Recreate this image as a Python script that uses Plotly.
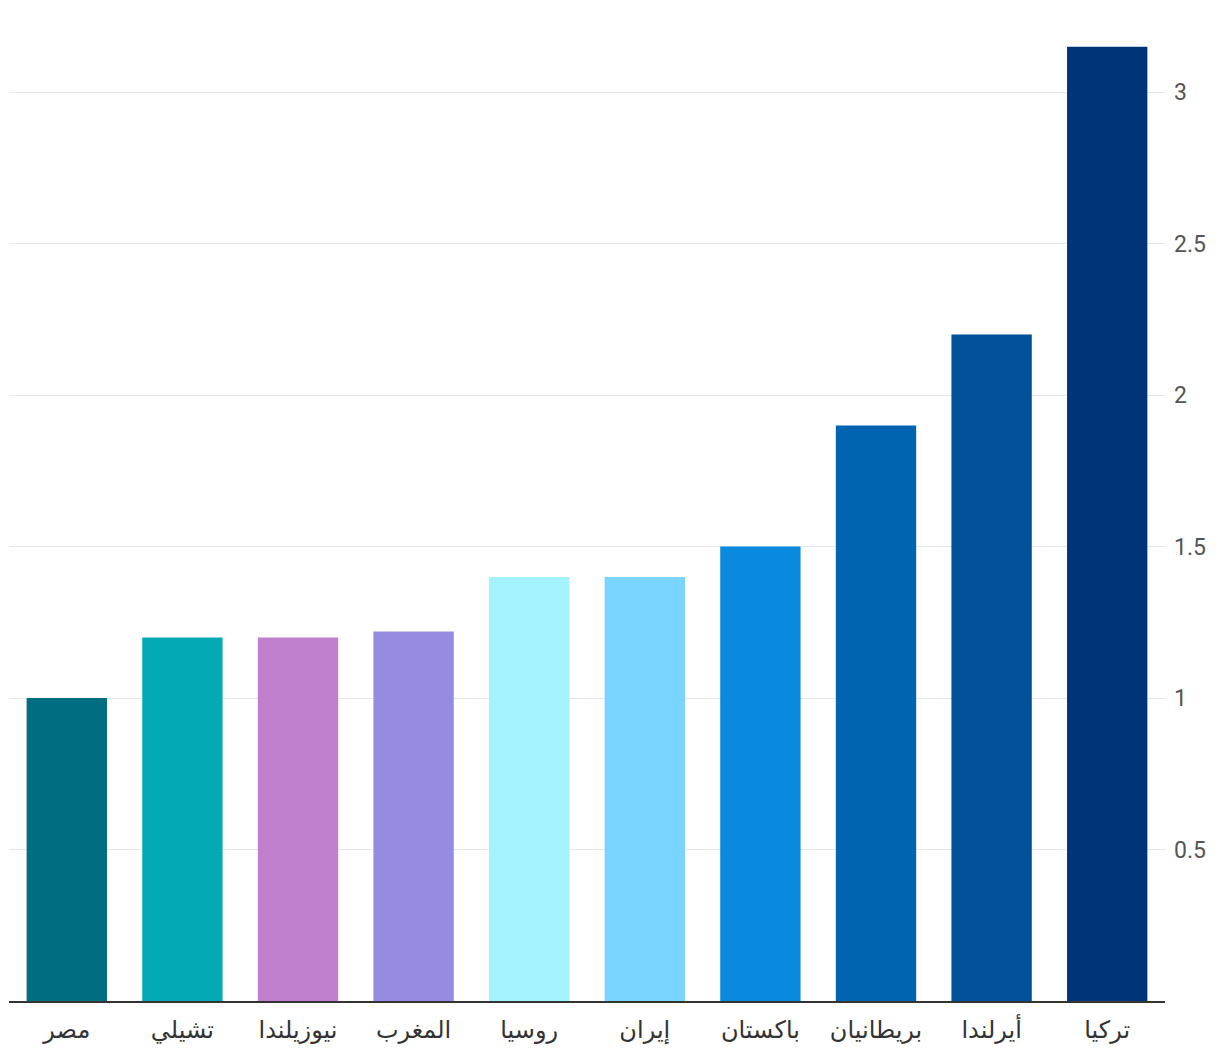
import plotly.graph_objects as go

countries = ["مصر", "تشيلي", "نيوزيلندا", "المغرب", "روسيا", "إيران", "باكستان", "بريطانيان", "أيرلندا", "تركيا"]
values = [1.0, 1.2, 1.2, 1.22, 1.4, 1.4, 1.5, 1.9, 2.2, 3.15]
colors = ["#006d80", "#03a9b5", "#bf7fcc", "#958be0", "#a3f3ff",
          "#79d4ff", "#0a8ade", "#0064b0", "#00509a", "#003478"]
tick_vals = [0.5, 1, 1.5, 2, 2.5, 3]
tick_text = ["0.5", "1", "1.5", "2", "2.5", "3"]

fig = go.Figure(go.Bar(
    x=countries, y=values, marker=dict(color=colors, line=dict(width=0)),
    hoverinfo="x+y",
))

fig.update_layout(
    width=1212, height=1048,
    margin=dict(l=1, r=55, t=0, b=55),
    paper_bgcolor="white", plot_bgcolor="white",
    bargap=0.305,
    showlegend=False,
    font=dict(family="Roboto, 'Noto Sans', 'DejaVu Sans', sans-serif"),
)
fig.update_xaxes(
    type="category", automargin=False,
    showline=True, linecolor="#333333", linewidth=2,
    showgrid=False, ticks="", ticklabelstandoff=6,
    tickfont=dict(size=24, color="#333333", family="'DejaVu Sans', sans-serif"),
)
fig.update_yaxes(
    side="right", range=[0, 3.278], automargin=False,
    tickvals=tick_vals, ticktext=tick_text,
    showgrid=True, gridcolor="#e6e6e6", gridwidth=1,
    zeroline=False, showline=False, ticks="", ticklabelstandoff=8,
    tickfont=dict(size=23, color="#555555"),
)

fig.write_html("out.html")
